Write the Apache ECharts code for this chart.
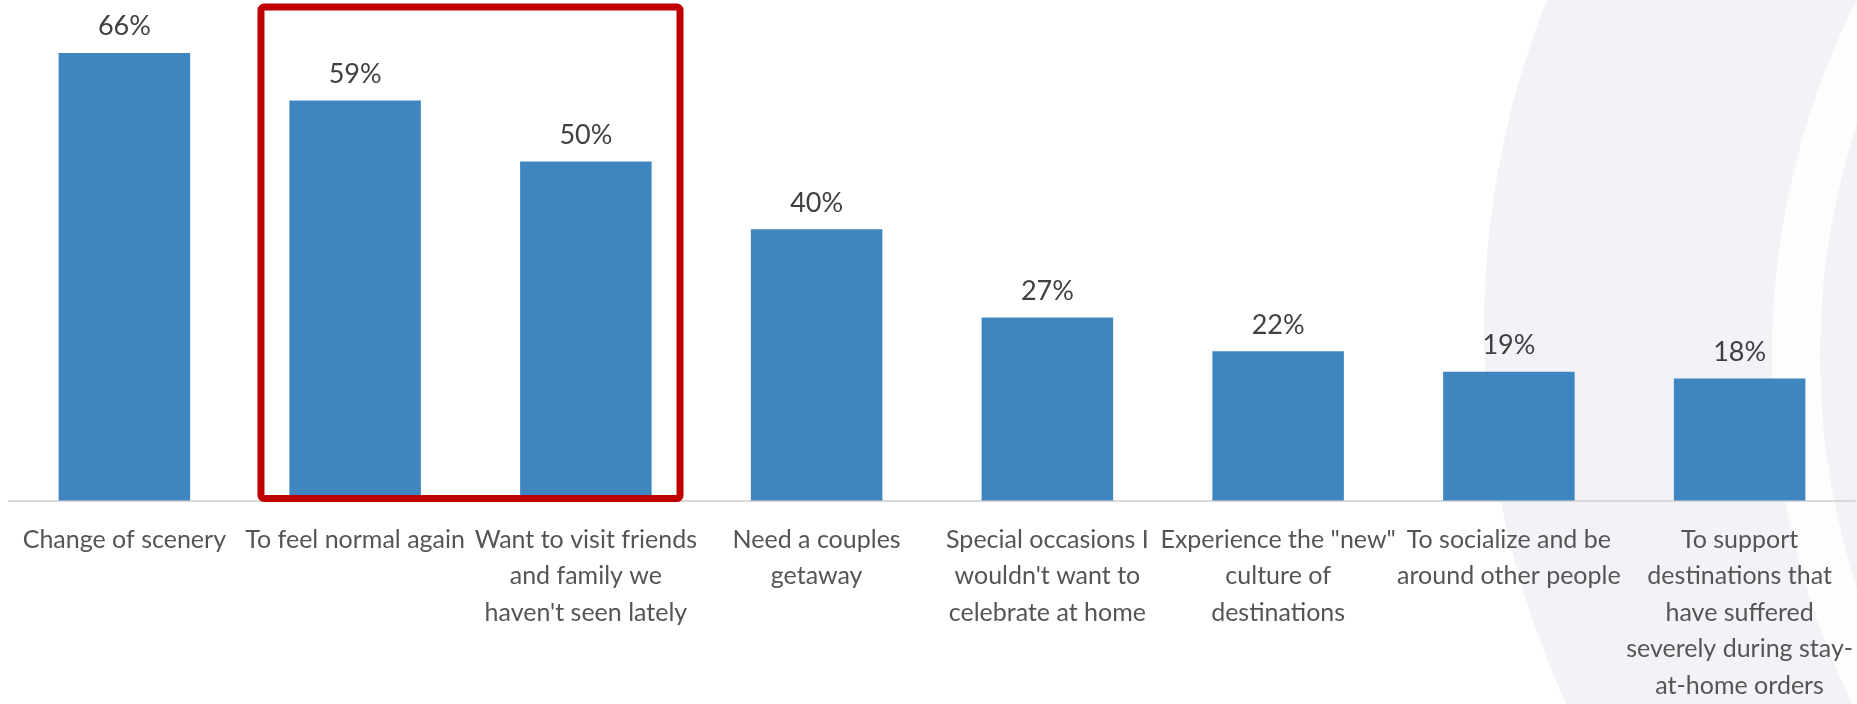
<!DOCTYPE html>
<html>
<head>
<meta charset="utf-8">
<script src="https://cdn.jsdelivr.net/npm/echarts@6/dist/echarts.min.js"></script>
<style>
  html, body { margin: 0; padding: 0; background: #fff; }
  #chart { width: 1857px; height: 704px; }
</style>
</head>
<body>
<div id="chart"></div>
<script>
const categories = [
  'Change of scenery',
  'To feel normal again',
  'Want to visit friends\nand family we\nhaven\'t seen lately',
  'Need a couples\ngetaway',
  'Special occasions I\nwouldn\'t want to\ncelebrate at home',
  'Experience the "new"\nculture of\ndestinations',
  'To socialize and be\naround other people',
  'To support\ndestinations that\nhave suffered\nseverely during stay-\nat-home orders'
];
const values = [66, 59, 50, 40, 27, 22, 19, 18];
// categories outlined by the red box
const highlighted = [1, 2];

const FONT = 'Lato, "Open Sans", sans-serif';
const BAND = '#f1f3f7';

const chart = echarts.init(document.getElementById('chart'));

// faint arcs in the page background
const backdrop = [
  { type: 'circle', z: -10, silent: true, shape: { cx: 2379, cy: 329, r: 895 }, style: { fill: BAND } },
  { type: 'circle', z: -9, silent: true, shape: { cx: 2564, cy: 356, r: 792 }, style: { fill: '#fdfdfe' } },
  { type: 'circle', z: -8, silent: true, shape: { cx: 2564, cy: 356, r: 744 }, style: { fill: BAND } }
];

chart.setOption({
  backgroundColor: '#ffffff',
  animation: false,
  graphic: backdrop,
  grid: { left: 9, right: 2, top: 26, bottom: 198, containLabel: false },
  xAxis: {
    type: 'category',
    data: categories,
    axisLine: { lineStyle: { color: '#d9d9d9', width: 2 } },
    axisTick: { show: false },
    axisLabel: {
      interval: 0,
      margin: 21,
      color: '#555555',
      fontFamily: FONT,
      fontSize: 25,
      lineHeight: 36.5
    }
  },
  yAxis: {
    type: 'value',
    min: 0,
    max: 70,
    show: false,
    splitLine: { show: false }
  },
  series: [{
    type: 'bar',
    data: values,
    barWidth: '57%',
    itemStyle: { color: '#3f85c0' },
    label: {
      show: true,
      position: 'top',
      distance: 13,
      formatter: '{c}%',
      color: '#404040',
      fontFamily: FONT,
      fontSize: 27
    }
  }]
});

// red outline around the highlighted pair of bars
const xa = chart.convertToPixel({ xAxisIndex: 0 }, highlighted[0]);
const xb = chart.convertToPixel({ xAxisIndex: 0 }, highlighted[1]);
const band = xb - xa;
const yBase = chart.convertToPixel({ yAxisIndex: 0 }, 0);
const boxLeft = xa - band * 0.408;
const boxRight = xb + band * 0.408;
const boxTop = 7;
chart.setOption({
  graphic: backdrop.concat([{
    type: 'rect',
    z: 100,
    silent: true,
    shape: { x: boxLeft, y: boxTop, width: boxRight - boxLeft, height: yBase - 2 - boxTop, r: 3 },
    style: { fill: 'none', stroke: '#c00000', lineWidth: 7 }
  }])
});
</script>
</body>
</html>
